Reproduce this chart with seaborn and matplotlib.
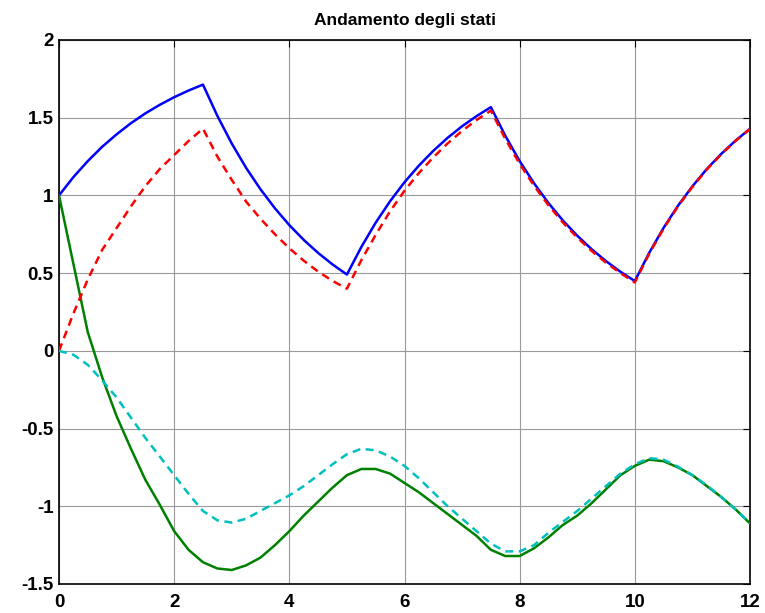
import matplotlib
matplotlib.use("Agg")
import matplotlib.pyplot as plt
import seaborn as sns
import pandas as pd

# ---- data ----
t = [0.0, 0.25, 0.5, 0.75, 1.0, 1.25, 1.5, 1.75, 2.0, 2.25, 2.5,
     2.75, 3.0, 3.25, 3.5, 3.75, 4.0, 4.25, 4.5, 4.75, 5.0,
     5.25, 5.5, 5.75, 6.0, 6.25, 6.5, 6.75, 7.0, 7.25, 7.5,
     7.75, 8.0, 8.25, 8.5, 8.75, 9.0, 9.25, 9.5, 9.75, 10.0,
     10.25, 10.5, 10.75, 11.0, 11.25, 11.5, 11.75, 12.0]

x1 = [1.000, 1.118, 1.221, 1.313, 1.393, 1.465, 1.528, 1.583, 1.632, 1.675, 1.713,
      1.512, 1.334, 1.177, 1.039, 0.917, 0.809, 0.714, 0.630, 0.556, 0.491,
      0.668, 0.825, 0.963, 1.085, 1.192, 1.287, 1.371, 1.445, 1.510, 1.568,
      1.384, 1.221, 1.078, 0.951, 0.839, 0.741, 0.654, 0.577, 0.509, 0.449,
      0.631, 0.792, 0.934, 1.059, 1.170, 1.267, 1.353, 1.429]

x1_hat = [0.000, 0.240, 0.460, 0.650, 0.790, 0.930, 1.060, 1.170, 1.260, 1.350, 1.430,
          1.250, 1.100, 0.960, 0.850, 0.750, 0.660, 0.580, 0.510, 0.450, 0.400,
          0.583, 0.747, 0.898, 1.030, 1.144, 1.245, 1.335, 1.415, 1.485, 1.546,
          1.364, 1.203, 1.062, 0.937, 0.826, 0.729, 0.643, 0.567, 0.500, 0.440,
          0.625, 0.787, 0.930, 1.055, 1.167, 1.264, 1.351, 1.427]

x2 = [1.000, 0.560, 0.120, -0.170, -0.420, -0.630, -0.830, -0.990, -1.160, -1.280, -1.360,
      -1.400, -1.410, -1.380, -1.330, -1.250, -1.160, -1.060, -0.970, -0.880, -0.800,
      -0.760, -0.760, -0.790, -0.850, -0.910, -0.980, -1.050, -1.120, -1.190, -1.280,
      -1.320, -1.320, -1.270, -1.200, -1.120, -1.060, -0.980, -0.890, -0.800, -0.740,
      -0.700, -0.710, -0.750, -0.800, -0.870, -0.940, -1.020, -1.110]

x2_hat = [0.000, -0.025, -0.090, -0.190, -0.300, -0.430, -0.560, -0.680, -0.800, -0.920, -1.030,
          -1.090, -1.105, -1.080, -1.030, -0.980, -0.930, -0.870, -0.800, -0.730, -0.665,
          -0.630, -0.640, -0.680, -0.740, -0.820, -0.910, -1.000, -1.080, -1.160, -1.240,
          -1.290, -1.290, -1.250, -1.170, -1.100, -1.030, -0.950, -0.870, -0.790, -0.730,
          -0.690, -0.700, -0.745, -0.800, -0.865, -0.940, -1.020, -1.110]

x_ticks = [0, 2, 4, 6, 8, 10, 12]
x_tick_labels = ["0", "2", "4", "6", "8", "10", "12"]
y_ticks = [-1.5, -1, -0.5, 0, 0.5, 1, 1.5, 2]
y_tick_labels = ["-1.5", "-1", "-0.5", "0", "0.5", "1", "1.5", "2"]
title = "Andamento degli stati"

# ---- style ----
sns.set_style("white")
plt.rcParams["font.family"] = ["Liberation Sans", "DejaVu Sans"]
plt.rcParams["font.weight"] = "bold"
plt.rcParams["axes.unicode_minus"] = False
plt.rcParams["xtick.direction"] = "in"
plt.rcParams["ytick.direction"] = "in"
plt.rcParams["text.color"] = "black"
plt.rcParams["xtick.color"] = "black"
plt.rcParams["ytick.color"] = "black"

df = pd.DataFrame({"t": t, "x1": x1, "x1_hat": x1_hat, "x2": x2, "x2_hat": x2_hat})

fig = plt.figure(figsize=(7.65, 6.13), dpi=100)
ax = fig.add_axes([59 / 765, 1 - 584 / 613, (750 - 59) / 765, (584 - 40) / 613])

lw = 1.8
sns.lineplot(data=df, x="t", y="x1", ax=ax, color=(0, 0, 1), lw=lw, zorder=4)
sns.lineplot(data=df, x="t", y="x1_hat", ax=ax, color=(1, 0, 0), lw=lw, zorder=5,
             dashes=False, linestyle=(0, (3.2, 2.2)))
sns.lineplot(data=df, x="t", y="x2", ax=ax, color=(0, 0.5, 0), lw=lw, zorder=4)
sns.lineplot(data=df, x="t", y="x2_hat", ax=ax, color=(0, 0.75, 0.75), lw=lw, zorder=5,
             dashes=False, linestyle=(0, (3.2, 2.2)))

ax.set_xlim(0, 12)
ax.set_ylim(-1.5, 2)
ax.set_xticks(x_ticks)
ax.set_xticklabels(x_tick_labels, fontsize=13.5, fontweight="bold", color="black")
ax.set_yticks(y_ticks)
ax.set_yticklabels(y_tick_labels, fontsize=13.5, fontweight="bold", color="black")
ax.tick_params(axis="both", which="both", top=True, right=True, length=5, width=0.8,
               color="black")
ax.tick_params(axis="y", pad=4)
ax.tick_params(axis="x", pad=7)
ax.grid(True, color="#9a9a9a", lw=0.8, ls="-")
ax.set_axisbelow(True)
for s in ax.spines.values():
    s.set_color("black")
    s.set_linewidth(1.2)
ax.set_xlabel("")
ax.set_ylabel("")
ax.set_title(title, fontsize=12.5, fontweight="bold", pad=11, color="black")

fig.savefig("out.png", dpi=100)
